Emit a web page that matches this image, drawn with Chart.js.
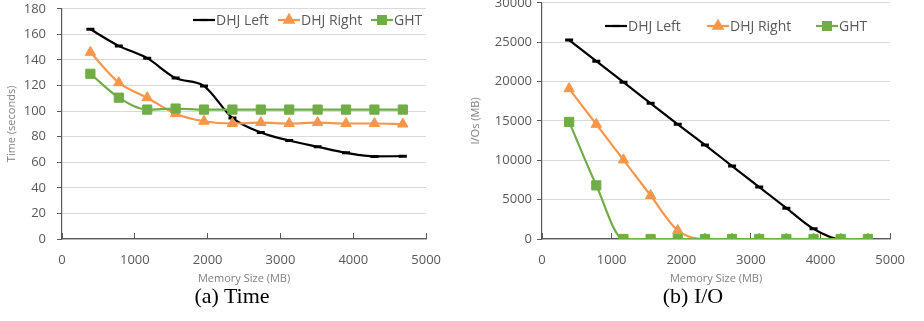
<!DOCTYPE html>
<html>
<head>
<meta charset="utf-8">
<script src="https://cdn.jsdelivr.net/npm/chart.js@4.4.1/dist/chart.umd.min.js"></script>
<style>
  body { margin: 0; background: #fff; width: 924px; height: 321px; position: relative; overflow: hidden; }
  .box { position: absolute; top: -10px; height: 295px; }
  .caption { position: absolute; top: 283px; font-family: 'Liberation Serif', serif; font-size: 22px; color: #000; transform: translateX(-50%); white-space: nowrap; }
</style>
</head>
<body>
<div class="box" style="left:0;width:460px"><canvas id="timeChart"></canvas></div>
<div class="box" style="left:462px;width:462px"><canvas id="ioChart"></canvas></div>
<div class="caption" style="left:232px">(a) Time</div>
<div class="caption" style="left:693px">(b) I/O</div>
<script>
// memory sizes (MB)
const memory = [390, 780, 1170, 1560, 1950, 2340, 2730, 3120, 3510, 3900, 4290, 4680];
const seriesNames = ['DHJ Left', 'DHJ Right', 'GHT'];

// (a) time in seconds
const timeLeft = [164, 151, 141.4, 125.8, 119.6, 94.7, 83.3, 77, 72.1, 67.4, 64.6, 64.8];
const timeRight = [146, 122.2, 110.5, 98, 92.1, 90.3, 91, 90.3, 91, 90.3, 90.3, 89.9];
const timeGht = [129.2, 110.5, 101.2, 102, 101.2, 101.2, 101.2, 101.2, 101.2, 101.2, 101.2, 101.2];

// (b) I/O in MB
const ioLeft = [25260, 22590, 19910, 17240, 14570, 11940, 9270, 6600, 3920, 1290, 0, 0];
const ioRight = [19090, 14570, 10040, 5520, 1080, 0, 0, 0, 0, 0, 0, 0];
const ioGht = [14870, 6810, 0, 0, 0, 0, 0, 0, 0, 0, 0, 0];

const timeTicks = { min: 0, max: 180, step: 20 };
const ioTicks = { min: 0, max: 30000, step: 5000 };
const memTicks = { min: 0, max: 5000, step: 1000 };

const BLACK = '#000000';
const ORANGE = '#F7964A';
const GREEN = '#70AD47';
const AXIS = '#595959';
const GRID = '#D9D9D9';

Chart.defaults.font.family = "'Open Sans', sans-serif";
Chart.defaults.color = AXIS;

function makeSets(a, b, c) {
  const pts = vals => vals.map((v, i) => ({ x: memory[i], y: v }));
  return [
    { label: seriesNames[0], data: pts(a), borderColor: BLACK, backgroundColor: BLACK, borderWidth: 2.2,
      pointStyle: 'line', pointRadius: 4, pointBorderWidth: 3, order: 2 },
    { label: seriesNames[1], data: pts(b), borderColor: ORANGE, backgroundColor: ORANGE, borderWidth: 2.2,
      pointStyle: 'triangle', pointRadius: 6, pointBorderWidth: 1, order: 1 },
    { label: seriesNames[2], data: pts(c), borderColor: GREEN, backgroundColor: GREEN, borderWidth: 2.2,
      pointStyle: 'rect', pointRadius: 6.5, pointBorderWidth: 1, order: 0 }
  ];
}

// legend drawn inside the plot, Excel style: line with marker in the middle
const inLegend = {
  id: 'inLegend',
  afterDraw(chart, args, opts) {
    const ctx = chart.ctx;
    ctx.save();
    ctx.font = '14px "Open Sans", sans-serif';
    ctx.textBaseline = 'middle';
    chart.data.datasets.forEach((ds, i) => {
      const x = opts.xs[i], y = opts.y;
      ctx.strokeStyle = ds.borderColor;
      ctx.lineWidth = ds.borderWidth;
      ctx.beginPath();
      ctx.moveTo(x, y);
      ctx.lineTo(x + 22, y);
      ctx.stroke();
      ctx.fillStyle = ds.backgroundColor;
      Chart.helpers.drawPoint(ctx, {
        pointStyle: ds.pointStyle, radius: ds.pointRadius * 0.85, borderWidth: ds.pointBorderWidth, rotation: 0
      }, x + 11, y);
      ctx.fillStyle = AXIS;
      ctx.fillText(ds.label, x + 23, y + 1);
    });
    ctx.restore();
  }
};

const plain = v => String(v);

function makeChart(id, sets, yt, yTitle, yWidth, rightPad, titlePad, yPad, legend) {
  return new Chart(document.getElementById(id), {
    type: 'line',
    data: { datasets: sets },
    plugins: [inLegend],
    options: {
      responsive: true,
      maintainAspectRatio: false,
      animation: false,
      layout: { padding: { top: 0, right: rightPad, bottom: 0, left: 0 } },
      elements: { line: { cubicInterpolationMode: 'monotone' } },
      plugins: { legend: { display: false }, tooltip: { enabled: false }, inLegend: legend },
      scales: {
        x: {
          type: 'linear', min: memTicks.min, max: memTicks.max,
          ticks: { stepSize: memTicks.step, padding: 19, font: { size: 13 }, color: AXIS, callback: plain },
          grid: { drawOnChartArea: false, tickLength: -6, tickColor: AXIS },
          border: { color: AXIS, width: 1.2 },
          title: { display: true, text: 'Memory Size (MB)', font: { size: 11 }, color: '#7F7F7F', padding: { top: 4, bottom: 0 } },
          afterFit(s) { s.height = 46; }
        },
        y: {
          min: yt.min, max: yt.max,
          ticks: { stepSize: yt.step, padding: yPad, font: { size: 13 }, color: AXIS, callback: plain },
          grid: { color: GRID, lineWidth: 1, tickLength: 5, tickColor: AXIS },
          border: { color: AXIS, width: 1.2 },
          title: { display: true, text: yTitle, font: { size: 11 }, color: '#7F7F7F', padding: { top: titlePad, bottom: 0 } },
          afterFit(s) { s.width = yWidth; }
        }
      }
    }
  });
}

makeChart('timeChart', makeSets(timeLeft, timeRight, timeGht), timeTicks, 'Time (seconds)', 62, 27, 5, 11,
  { xs: [193, 278, 371], y: 30 });
makeChart('ioChart', makeSets(ioLeft, ioRight, ioGht), ioTicks, 'I/Os (MB)', 80, 26, 7, 5,
  { xs: [143, 245, 354], y: 36 });
</script>
</body>
</html>
